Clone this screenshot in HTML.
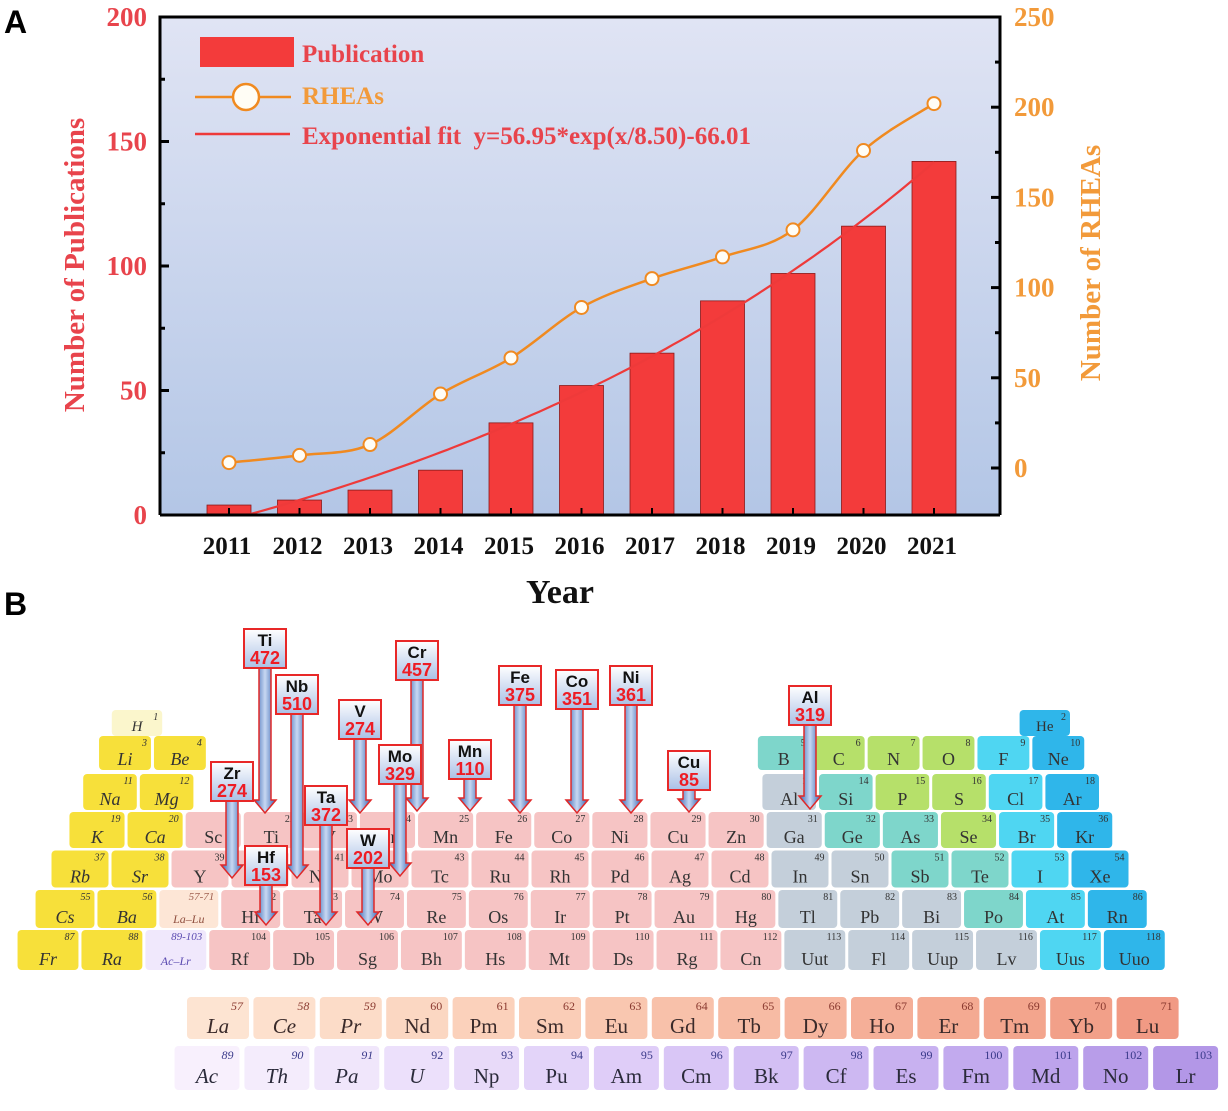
<!DOCTYPE html>
<html><head><meta charset="utf-8">
<style>
html,body{margin:0;padding:0;background:#fff;}
svg{display:block;}
</style></head>
<body>
<svg id="fig" width="1228" height="1111" viewBox="0 0 1228 1111" xmlns="http://www.w3.org/2000/svg">
<defs>
<linearGradient id="plotbg" x1="0" y1="0" x2="0" y2="1">
<stop offset="0" stop-color="#e0e4f4"/><stop offset="1" stop-color="#b3c6e6"/>
</linearGradient>
<linearGradient id="shaft" x1="0" y1="0" x2="1" y2="0">
<stop offset="0" stop-color="#2f5fb0"/><stop offset="0.5" stop-color="#c8d8f2"/><stop offset="1" stop-color="#2f5fb0"/>
</linearGradient>
<linearGradient id="boxg" x1="0" y1="0" x2="0" y2="1">
<stop offset="0" stop-color="#ffffff"/><stop offset="1" stop-color="#a9c0e6"/>
</linearGradient>
</defs>
<text x="4" y="33" font-family="Liberation Sans, sans-serif" font-weight="bold" font-size="32" fill="#000">A</text>
<text x="4" y="615" font-family="Liberation Sans, sans-serif" font-weight="bold" font-size="32" fill="#000">B</text>
<g id="chart"></g>
<g id="ptable"></g>
<g id="callouts"></g>
</svg>
<script>
// ---------- Chart data ----------
const years = ['2011','2012','2013','2014','2015','2016','2017','2018','2019','2020','2021'];
const publications = [4, 6, 10, 18, 37, 52, 65, 86, 97, 116, 142];
const rheas = [3, 7, 13, 41, 61, 89, 105, 117, 132, 176, 202];
const fitParams = [56.95, 8.50, -66.01];
const leftTicks = [0, 50, 100, 150, 200];
const rightTicks = [0, 50, 100, 150, 200, 250];

const NS = 'http://www.w3.org/2000/svg';
function mk(tag, attrs, parent, txt){
  const e = document.createElementNS(NS, tag);
  for (const k in attrs) e.setAttribute(k, attrs[k]);
  if (txt !== undefined) e.textContent = txt;
  parent.appendChild(e);
  return e;
}
const chart = document.getElementById('chart');
const PL = 160, PR = 1000, PT = 17, PB = 515;
const xC = i => 229 + i * 70.5;
const yL = v => PB - v * (PB - PT) / 200;
const yR = v => 468 - v * (468 - PT) / 250;
const serif = 'Liberation Serif, serif';

const bg = mk('rect', {x:PL, y:PT, width:PR-PL, height:PB-PT, fill:'url(#plotbg)'}, chart);



years.forEach((yr, i) => {
  const b = mk('rect', {x:xC(i)-22, y:yL(publications[i]), width:44, height:PB-yL(publications[i]), fill:'#f33b3b', stroke:'#8a1a1a', 'stroke-width':0.8}, chart);
  
  
});

let fd = '';
for (let t = 0; t <= 100; t++) {
  const xi = t / 10;
  const v = fitParams[0] * Math.exp((xi + 1) / fitParams[1]) + fitParams[2];
  const yy = Math.min(yL(v), PB);
  fd += (t ? 'L' : 'M') + xC(xi).toFixed(1) + ',' + yy.toFixed(1);
}
const fit = mk('path', {d:fd, fill:'none', stroke:'#ee3a3a', 'stroke-width':2.2}, chart);



const pts = rheas.map((v, i) => [xC(i), yR(v)]);
let rd = 'M' + pts[0][0] + ',' + pts[0][1];
for (let i = 0; i < pts.length - 1; i++) {
  const p0 = pts[Math.max(0, i-1)], p1 = pts[i], p2 = pts[i+1], p3 = pts[Math.min(pts.length-1, i+2)];
  const c1x = p1[0] + (p2[0]-p0[0])/6, c1y = p1[1] + (p2[1]-p0[1])/6;
  const c2x = p2[0] - (p3[0]-p1[0])/6, c2y = p2[1] - (p3[1]-p1[1])/6;
  rd += `C${c1x},${c1y} ${c2x},${c2y} ${p2[0]},${p2[1]}`;
}
const rl = mk('path', {d:rd, fill:'none', stroke:'#f08a20', 'stroke-width':2.5}, chart);


pts.forEach((p, i) => {
  const c = mk('circle', {cx:p[0], cy:p[1], r:6.5, fill:'#fffdf5', stroke:'#f08a20', 'stroke-width':2}, chart);
  
  
});

const fr = mk('path', {d:`M${PL},${PB} L${PL},${PT} L${PR},${PT} L${PR},${PB} M${PL},${PB} L${PR},${PB}`, fill:'none', stroke:'#000', 'stroke-width':3}, chart);



for (let v = 0; v <= 200; v += 25) {
  const len = v % 50 === 0 ? 9 : 5;
  mk('line', {x1:PL, x2:PL+len, y1:yL(v), y2:yL(v), stroke:'#000', 'stroke-width':3}, chart);
}
leftTicks.forEach(v => {
  const t = mk('text', {x:147, y:yL(v)+9, 'text-anchor':'end', 'font-family':serif, 'font-weight':'bold', 'font-size':27, fill:'#e8444c'}, chart, String(v));
  
  
});
for (let v = 0; v <= 250; v += 25) {
  const len = v % 50 === 0 ? 9 : 5;
  mk('line', {x1:PR-len, x2:PR, y1:yR(v), y2:yR(v), stroke:'#000', 'stroke-width':3}, chart);
}
rightTicks.forEach(v => {
  const t = mk('text', {x:1014, y:yR(v)+9, 'text-anchor':'start', 'font-family':serif, 'font-weight':'bold', 'font-size':27, fill:'#f29a3a'}, chart, String(v));
  
  
});
years.forEach((yr, i) => {
  mk('line', {x1:xC(i), x2:xC(i), y1:PB, y2:PB-7, stroke:'#000', 'stroke-width':2}, chart);
  const t = mk('text', {x:xC(i)-2, y:554, 'text-anchor':'middle', 'font-family':serif, 'font-weight':'bold', 'font-size':25, fill:'#111'}, chart, yr);
  
  
});
const xt = mk('text', {x:560, y:603, 'text-anchor':'middle', 'font-family':serif, 'font-weight':'bold', 'font-size':34, fill:'#111'}, chart, 'Year');


const yt1 = mk('text', {x:0, y:0, transform:'translate(84,265) rotate(-90)', 'text-anchor':'middle', 'font-family':serif, 'font-weight':'bold', 'font-size':29, fill:'#e8444c'}, chart, 'Number of Publications');


const yt2 = mk('text', {x:0, y:0, transform:'translate(1100,263) rotate(-90)', 'text-anchor':'middle', 'font-family':serif, 'font-weight':'bold', 'font-size':29, fill:'#f29a3a'}, chart, 'Number of RHEAs');



const lg = mk('g', {}, chart);


mk('rect', {x:200, y:37, width:94, height:30, fill:'#f33b3b'}, lg);
mk('text', {x:302, y:62, 'font-family':serif, 'font-weight':'bold', 'font-size':25, fill:'#e8444c'}, lg, 'Publication');
mk('line', {x1:195, x2:291, y1:97, y2:97, stroke:'#f08a20', 'stroke-width':2.5}, lg);
mk('circle', {cx:246, cy:97, r:13, fill:'#fffdf5', stroke:'#f08a20', 'stroke-width':2.5}, lg);
mk('text', {x:302, y:104, 'font-family':serif, 'font-weight':'bold', 'font-size':25, fill:'#f29a3a'}, lg, 'RHEAs');
mk('line', {x1:195, x2:290, y1:134, y2:134, stroke:'#ee3a3a', 'stroke-width':2.5}, lg);
mk('text', {x:302, y:144, 'font-family':serif, 'font-weight':'bold', 'font-size':25, fill:'#e8444c', style:'white-space:pre'}, lg, 'Exponential fit  y=56.95*exp(x/8.50)-66.01');

// ---------- Periodic table ----------
const pt = document.getElementById('ptable');
const rowY = [723, 753, 792, 830, 869, 909, 950];
const rowH = [26, 34, 36, 36, 37, 38, 40];
const rowX0 = [137, 125, 110, 97, 80, 65, 48];
const rowP = [53.4, 54.9, 56.6, 58.1, 60, 61.9, 63.9];
const rows = [
  [['H',1,0],['He',2,17]],
  [['Li',3,0],['Be',4,1],['B',5,12],['C',6,13],['N',7,14],['O',8,15],['F',9,16],['Ne',10,17]],
  [['Na',11,0],['Mg',12,1],['Al',13,12],['Si',14,13],['P',15,14],['S',16,15],['Cl',17,16],['Ar',18,17]],
  'K Ca Sc Ti V Cr Mn Fe Co Ni Cu Zn Ga Ge As Se Br Kr'.split(' ').map((s,i)=>[s,19+i,i]),
  'Rb Sr Y Zr Nb Mo Tc Ru Rh Pd Ag Cd In Sn Sb Te I Xe'.split(' ').map((s,i)=>[s,37+i,i]),
  'Cs Ba La-Lu Hf Ta W Re Os Ir Pt Au Hg Tl Pb Bi Po At Rn'.split(' ').map((s,i)=>[s,i<2?55+i:(i===2?'57-71':69+i),i]),
  'Fr Ra Ac-Lr Rf Db Sg Bh Hs Mt Ds Rg Cn Uut Fl Uup Lv Uus Uuo'.split(' ').map((s,i)=>[s,i<2?87+i:(i===2?'89-103':101+i),i])
];
const pblock = ['n','tggghn','mtgghn','mttghn','mmtthn','mmmthn','mmmmhn'];
const colors = {y:'#f7e03a', p:'#f6c4c4', m:'#c4cfda', t:'#7ed6cb', g:'#b6e06a', h:'#4fd6f2', n:'#2fb6ea', H:'#fbf6cc', LL:'#fde6d6', AL:'#f0e8fc'};
rows.forEach((row, r) => {
  row.forEach(([sym, z, c]) => {
    let cat;
    if (sym === 'H') cat = 'H';
    else if (c < 2) cat = 'y';
    else if (sym === 'La-Lu') cat = 'LL';
    else if (sym === 'Ac-Lr') cat = 'AL';
    else if (c < 12) cat = 'p';
    else cat = r === 0 ? 'n' : pblock[r][c-12];
    const cx = rowX0[r] + c * rowP[r], cy = rowY[r], w = rowP[r] - 3, h = rowH[r];
    const g = mk('g', {}, pt);
    
    
    mk('rect', {x:cx-w/2, y:cy-h/2, width:w, height:h, rx:4, fill:colors[cat]}, g);
    const italic = (c < 2 || cat === 'LL' || cat === 'AL' || sym==='H');
    const small = cat === 'LL' || cat === 'AL';
    mk('text', {x:cx+w/2-4, y:cy-h/2+10, 'text-anchor':'end', 'font-family':serif, 'font-style':italic?'italic':'normal', 'font-size':small?11:10, fill:small?(cat==='AL'?'#5a4ab0':'#a06050'):'#333'}, g, String(z));
    mk('text', {x:cx, y:cy+h/2-5, 'text-anchor':'middle', 'font-family':serif, 'font-style':italic?'italic':'normal', 'font-size':small?12:(r===0?15:18), fill:small?(cat==='AL'?'#5a4ab0':'#905040'):'#333'}, g, small?sym.replace('-','–'):sym);
  });
});
const lan = 'La Ce Pr Nd Pm Sm Eu Gd Tb Dy Ho Er Tm Yb Lu'.split(' ');
const act = 'Ac Th Pa U Np Pu Am Cm Bk Cf Es Fm Md No Lr'.split(' ');
const lanCol = ['#fde4d2','#fde0cd','#fcdcc8','#fbd7c2','#fbd1bb','#facdb7','#f9c7b0','#f8c1aa','#f7bba4','#f6b59e','#f5af98','#f4aa92','#f3a58d','#f2a089','#f19a84'];
const actCol = ['#f8f0fd','#f4ecfc','#f0e6fb','#ece0fb','#e8daf9','#e3d4f9','#dfcdf8','#d9c6f6','#d3bff4','#cdb8f2','#c8b1f0','#c2aaee','#bda3ec','#b89de9','#b397e7'];
lan.forEach((s, i) => {
  const cx = 218 + i * 66.4, cy = 1018, w = 62, h = 42;
  const g = mk('g', {}, pt);
  
  
  mk('rect', {x:cx-w/2, y:cy-h/2, width:w, height:h, rx:4, fill:lanCol[i]}, g);
  mk('text', {x:cx+w/2-6, y:cy-h/2+13, 'text-anchor':'end', 'font-family':serif, 'font-style':i<3?'italic':'normal', 'font-size':12, fill:'#8a3a30'}, g, String(57+i));
  mk('text', {x:cx, y:cy+h/2-6, 'text-anchor':'middle', 'font-family':serif, 'font-style':i<3?'italic':'normal', 'font-size':21, fill:'#3a2a2a'}, g, s);
});
act.forEach((s, i) => {
  const cx = 207 + i * 69.9, cy = 1068, w = 65, h = 44;
  const g = mk('g', {}, pt);
  
  
  mk('rect', {x:cx-w/2, y:cy-h/2, width:w, height:h, rx:4, fill:actCol[i]}, g);
  mk('text', {x:cx+w/2-6, y:cy-h/2+13, 'text-anchor':'end', 'font-family':serif, 'font-style':i<3?'italic':'normal', 'font-size':12, fill:'#3a3a8a'}, g, String(89+i));
  mk('text', {x:cx, y:cy+h/2-7, 'text-anchor':'middle', 'font-family':serif, 'font-style':i<4?'italic':'normal', 'font-size':21, fill:'#2a2a3a'}, g, s);
});

// ---------- Callouts ----------
const calloutElems = ['Ti','Nb','V','Cr','Zr','Mo','Ta','W','Hf','Mn','Fe','Co','Ni','Cu','Al'];
const calloutCounts = [472, 510, 274, 457, 274, 329, 372, 202, 153, 110, 375, 351, 361, 85, 319];
const calloutX = [265, 297, 360, 417, 232, 400, 326, 368, 266, 470, 520, 577, 631, 689, 810];
const calloutTop = [629, 675, 700, 641, 762, 745, 786, 829, 846, 740, 666, 670, 666, 751, 686];
const calloutTip = [813, 878, 813, 811, 878, 876, 925, 925, 925, 811, 813, 813, 813, 812, 809];
const co = document.getElementById('callouts');
calloutElems.forEach((s, i) => {
  const cx = calloutX[i], top = calloutTop[i], tip = calloutTip[i];
  const bw = 42, bh = 39;
  const g = mk('g', {}, co);
  
  
  const sb = top + bh, hy = tip - 13;
  mk('path', {d:`M${cx-6},${sb} L${cx-6},${hy} L${cx-11},${hy} L${cx},${tip} L${cx+11},${hy} L${cx+6},${hy} L${cx+6},${sb} Z`, fill:'url(#shaft)', stroke:'#e02828', 'stroke-width':1.5}, g);
  mk('rect', {x:cx-bw/2, y:top, width:bw, height:bh, fill:'url(#boxg)', stroke:'#e82828', 'stroke-width':2}, g);
  mk('text', {x:cx, y:top+17, 'text-anchor':'middle', 'font-family':'Liberation Sans, sans-serif', 'font-weight':'bold', 'font-size':17, fill:'#111'}, g, s);
  mk('text', {x:cx, y:top+35, 'text-anchor':'middle', 'font-family':'Liberation Sans, sans-serif', 'font-weight':'bold', 'font-size':18, fill:'#ee1c24'}, g, String(calloutCounts[i]));
});
</script>
</body></html>
